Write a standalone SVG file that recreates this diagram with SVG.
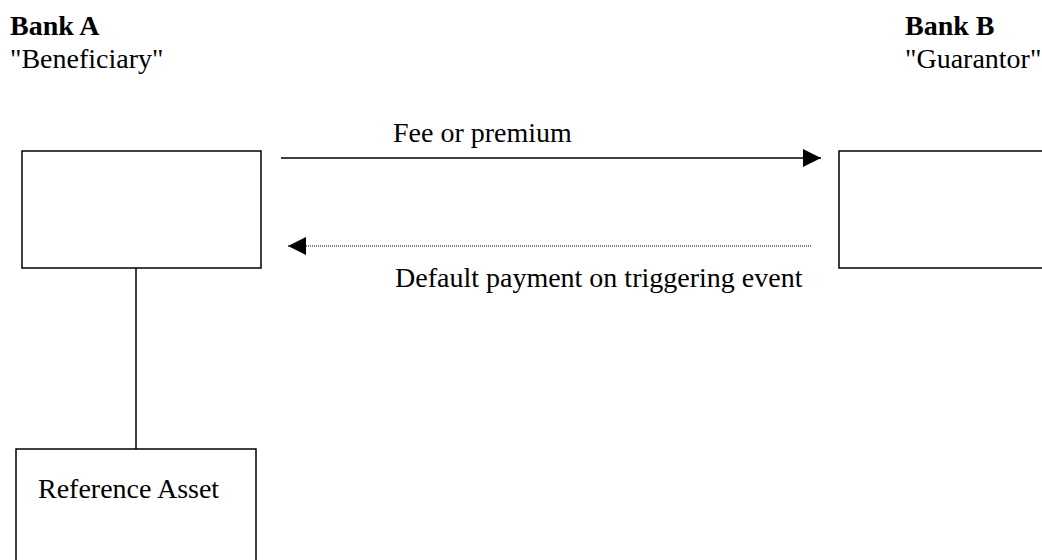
<svg xmlns="http://www.w3.org/2000/svg" width="1042" height="560" viewBox="0 0 1042 560">
<style>
text{font-family:"Liberation Serif","Times New Roman",serif;font-size:28px;fill:#000}
.b{font-weight:bold}
.box{fill:#fff;stroke:#000;stroke-width:1.5}
.ln{stroke:#000;stroke-width:1.5;fill:none}
.dot{stroke:#000;stroke-width:1;stroke-dasharray:1 1;fill:none}
</style>
<defs>
<marker id="ah" markerWidth="18" markerHeight="18" viewBox="0 0 18 18" refX="18" refY="9" orient="auto" markerUnits="userSpaceOnUse">
<path d="M0,0 L18,9 L0,18 Z" fill="#000"/>
</marker>
</defs>
<g id="bankA">
<text class="b" x="10" y="35">Bank A</text>
<text x="10" y="68">"Beneficiary"</text>
<rect class="box" x="22" y="151" width="239" height="117"/>
</g>
<g id="bankB">
<text class="b" x="905" y="35">Bank B</text>
<text x="905" y="68">"Guarantor"</text>
<rect class="box" x="839" y="151" width="210" height="117"/>
</g>
<g id="refAsset">
<rect class="box" x="16" y="449" width="240" height="120"/>
<text x="38" y="498">Reference Asset</text>
</g>
<g id="connectors">
<line class="ln" x1="281" y1="158" x2="821" y2="158" marker-end="url(#ah)"/>
<text x="393" y="142">Fee or premium</text>
<line class="dot" x1="811" y1="246" x2="288" y2="246" marker-end="url(#ah)"/>
<text x="395" y="287">Default payment on triggering event</text>
<line class="ln" x1="136" y1="268" x2="136" y2="449"/>
</g>
</svg>
